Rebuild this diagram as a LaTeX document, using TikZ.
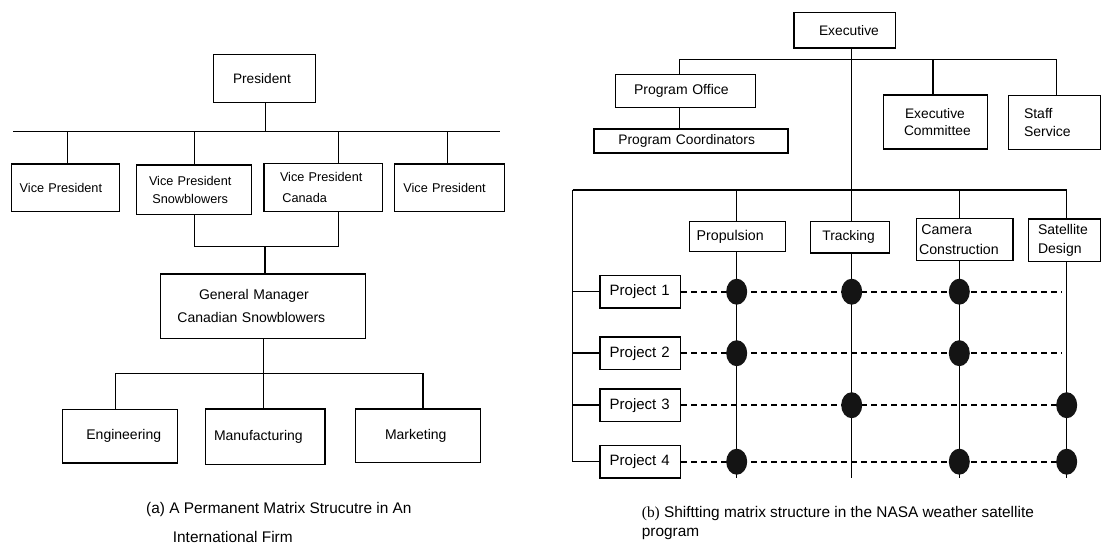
\documentclass[tikz,border=0pt]{standalone}
\usepackage{fontspec}
\setmainfont{Liberation Sans}
\newfontfamily\serifb{Liberation Serif}
\newcommand\fz[2]{\fontsize{#1}{#2}\selectfont}
\newcommand\lp[1]{\hspace*{#1pt}}
\begin{document}
\begin{tikzpicture}[x=1pt,y=-1pt,
  ln/.style={line width=1.4pt},
  bx/.style={draw, line width=1.4pt, inner sep=0pt, anchor=north west, align=left},
  tx/.style={inner sep=0pt, anchor=west, font=\fz{15.4}{18}},
  dsh/.style={line width=1.7pt, dash pattern=on 6pt off 4pt},
  dotc/.style={fill=black!92}]
\useasboundingbox (0,0) rectangle (1101,545);
\fill[white] (0,0) rectangle (1101,545);

% ---------- (a) permanent matrix structure ----------
\node[bx, text width=102pt, minimum height=48pt, font=\fz{13.7}{16}] (pres) at (213,54) {\lp{19.3}President};

\node[bx, text width=108pt, minimum height=47.7pt, font=\fz{12.7}{16}] (vp1) at (11,163.3) {\lp{8}Vice President};
\node[bx, text width=114.7pt, minimum height=49.7pt, font=\fz{12.7}{18}] (vp2) at (136,164.3) {\lp{12.3}Vice President\\\lp{15.7}Snowblowers};
\node[bx, text width=118.4pt, minimum height=48.3pt, font=\fz{12.7}{21.6}] (vp3) at (263.3,162.7) {\lp{16}Vice President\\\lp{18.4}Canada};
\node[bx, text width=110pt, minimum height=47.4pt, font=\fz{12.7}{16}] (vp4) at (394,163.3) {\lp{8.7}Vice President};

\node[bx, text width=205pt, minimum height=64.4pt, font=\fz{14}{22.6}] (gm) at (160,273.3) {\lp{38.3}General Manager\\\lp{16.7}Canadian Snowblowers};

\node[bx, text width=115pt, minimum height=53.3pt, font=\fz{14}{17}] (eng) at (61.7,409) {\lp{24}Engineering};
\node[bx, text width=119.3pt, minimum height=55.7pt, font=\fz{14}{17}] (man) at (205,408.3) {\lp{8.3}Manufacturing};
\node[bx, text width=125pt, minimum height=53.4pt, font=\fz{14}{17}] (mkt) at (355,408.3) {\lp{29.3}Marketing};

\coordinate (busL) at (13,131.7);
\coordinate (busR) at (500,131.7);
\draw[ln] (busL) -- (busR);
\draw[ln] ([xshift=1pt]pres.south) -- ([xshift=1pt]pres.south |- busL);
\foreach \n/\dx in {vp1/1.7, vp2/0.6, vp3/15.2, vp4/-2.3}
  \draw[ln] ([xshift=\dx pt]\n.north) -- ([xshift=\dx pt]\n.north |- busL);

\coordinate (jn) at (265,246.7);
\draw[ln] ([xshift=0.6pt]vp2.south) |- (jn) -| ([xshift=15.2pt]vp3.south);
\draw[ln] (jn) -- (jn |- gm.north);

\coordinate (kn) at (263.3,373.3);
\draw[ln] (kn |- gm.south) -- (kn |- man.north);
\draw[ln] ([xshift=-4.2pt]eng.north) |- (kn) -| ([xshift=4.8pt]mkt.north);

\node[tx] (capA1) at (146,509.3) {(a) A Permanent Matrix Strucutre in An};
\node[tx] (capA2) at (172.7,536.7) {International Firm};

% ---------- (b) shifting matrix structure ----------
\node[bx, text width=101.7pt, minimum height=35.6pt, font=\fz{13.8}{17}] (exec) at (793.3,11.7) {\lp{25}Executive};
\node[bx, text width=140pt, minimum height=32.7pt, font=\fz{14}{17}] (po) at (615,74) {\lp{18.3}Program Office};
\node[bx, text width=194pt, minimum height=24pt, font=\fz{13.8}{17}] (pc) at (593.3,128.3) {\lp{24.4}Program Coordinators};
\node[bx, text width=104pt, minimum height=54pt, font=\fz{13.8}{16.5}] (ec) at (882.7,94.3) {\lp{21.6}Executive\\\lp{20.6}Committee};
\node[bx, text width=92pt, minimum height=54pt, font=\fz{14}{18.6}] (ss) at (1007.7,95) {\lp{15.6}Staff\\\lp{15.6}Service};

\node[bx, text width=96pt, minimum height=30pt, font=\fz{14.2}{17}] (prop) at (689,221) {\lp{7}Propulsion};
\node[bx, text width=79pt, minimum height=31.3pt, font=\fz{13.8}{17}] (trk) at (810,221) {\lp{11.7}Tracking};
\node[bx, text width=96.6pt, minimum height=42.3pt, font=\fz{14.2}{19.3}] (cam) at (915.7,217.7) {\lp{5}Camera\\\lp{2.6}Construction};
\node[bx, text width=72pt, minimum height=42.7pt, font=\fz{14}{18.6}] (sat) at (1027.7,218.3) {\lp{9.6}Satellite\\\lp{9.6}Design};

\foreach \i/\t in {1/274.75, 2/336.25, 3/388.25, 4/444.75}
  \node[bx, text width=80.7pt, minimum height=32.5pt, font=\fz{15}{17}] (p\i) at (599.3,\t) {\lp{9.7}Project \i};

% upper bus and staff branches
\coordinate (bA) at (679.3,59.3);
\coordinate (bB) at (1056.7,59.3);
\coordinate (tr) at (851.7,59.3);
\draw[ln] (bA) -- (bB);
\draw[ln] (tr |- exec.south) -- (tr |- trk.north);
\draw[ln] (bA) -- (bA |- po.north);
\draw[ln] (bA |- po.south) -- (bA |- pc.north);
\draw[ln] ([xshift=-2.4pt]ec.north) -- ([xshift=-2.4pt]ec.north |- bA);
\draw[ln] (bB) -- (bB |- ss.north);

% lower bus, functional columns
\coordinate (cL) at (572.7,190);
\coordinate (cR) at (1066.7,190);
\coordinate (bot) at (0,478.3);
\coordinate (dE) at (1061.7,0);
\coordinate (kP) at (736.7,190);
\coordinate (kT) at (851.7,190);
\coordinate (kC) at (959.3,190);
\draw[ln] (cL) -- (cR);
\foreach \k/\n in {kP/prop, kC/cam, cR/sat}
  \draw[ln] (\k) -- (\k |- \n.north);
\foreach \k/\n in {kP/prop, kT/trk, kC/cam, cR/sat}
  \draw[ln] (\k |- \n.south) -- (\k |- bot);

% project rows
\draw[ln] (cL) -- (cL |- p4) -- (p4.west);
\foreach \i in {1,2,3}
  \draw[ln] (cL |- p\i) -- (p\i.west);
\draw[dsh] (p1.east) -- (p1.east -| dE);
\draw[dsh] (p2.east) -- (p2.east -| dE);
\draw[dsh] (p3.east) -- (p3.east -| cR);
\draw[dsh] (p4.east) -- (p4.east -| cR);

% assignment dots
\foreach \k/\i in {kP/1, kT/1, kC/1, kP/2, kC/2, kT/3, cR/3, kP/4, kC/4, cR/4}
  \fill[dotc] (\k |- p\i) ellipse [x radius=10.5pt, y radius=13pt];

\node[tx] (capB1) at (641.7,514) {{\serifb(b)} Shiftting matrix structure in the NASA weather satellite};
\node[tx] (capB2) at (641.7,533.5) {program};
\end{tikzpicture}
\end{document}
